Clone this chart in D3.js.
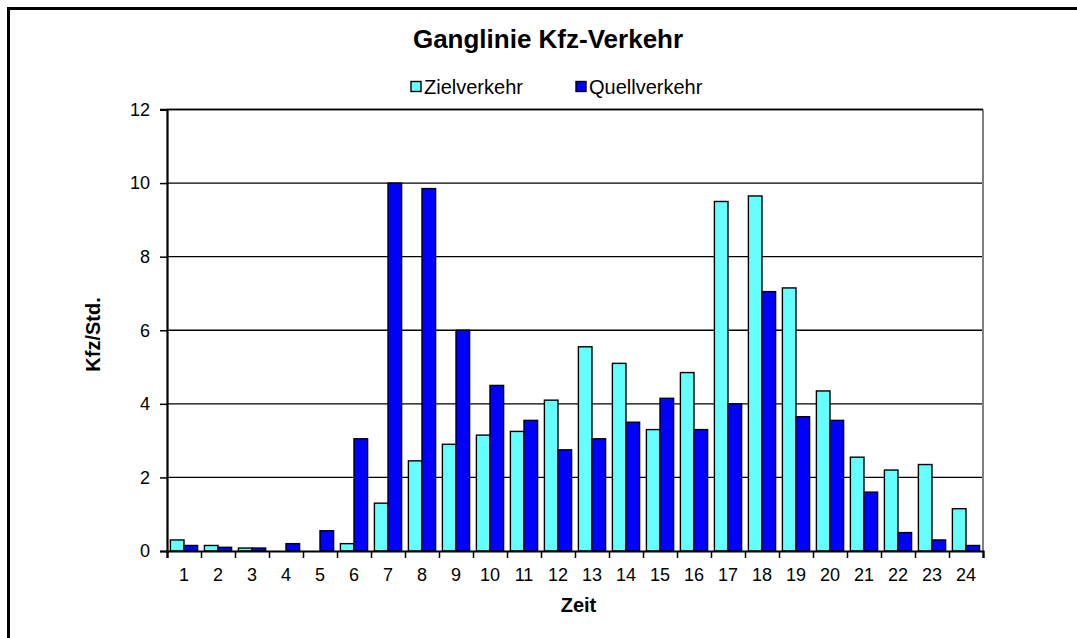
<!DOCTYPE html>
<html>
<head>
<meta charset="utf-8">
<script src="https://cdn.jsdelivr.net/npm/d3@7"></script>
<style>
    body { margin: 0; background: #fff; }
    svg { display: block; font-family: "Liberation Sans", Arial, sans-serif; }
</style>
</head>
<body>
<div id="chart"></div>
<script>
// hourly traffic
const hours = d3.range(1, 25).map(String);
const zielverkehr = [0.3, 0.15, 0.08, 0, 0, 0.2, 1.3, 2.45, 2.9, 3.15, 3.25, 4.1, 5.55, 5.1, 3.3, 4.85, 9.5, 9.65, 7.15, 4.35, 2.55, 2.2, 2.35, 1.15];
const quellverkehr = [0.15, 0.1, 0.08, 0.2, 0.55, 3.05, 10.0, 9.85, 6.0, 4.5, 3.55, 2.75, 3.05, 3.5, 4.15, 3.3, 4.0, 7.05, 3.65, 3.55, 1.6, 0.5, 0.3, 0.15];
const seriesNames = ["Zielverkehr", "Quellverkehr"];
const seriesColors = ["#66ffff", "#0000ff"];
const yTicks = [0, 2, 4, 6, 8, 10, 12];

const width = 1077;
const height = 638;
const plot = {left: 167, right: 983, top: 109.5, bottom: 551};

const svg = d3.select("#chart").append("svg")
    .attr("width", width)
    .attr("height", height);

//outer frame, only left and top edges are visible
svg.append("path")
    .attr("d", `M8.5,${height} V8.5 H${width}`)
    .attr("fill", "none")
    .attr("stroke", "#000")
    .attr("stroke-width", 3);

const x = d3.scaleBand().domain(hours).range([plot.left, plot.right]).padding(0);
const xSeries = d3.scaleBand().domain(seriesNames).range([0, x.bandwidth()]).paddingInner(0).paddingOuter(0.25);
const xEdges = d3.scaleLinear().domain([0, 24]).range([plot.left, plot.right]);
const y = d3.scaleLinear().domain([0, 12]).range([plot.bottom, plot.top]);

//gridlines
svg.append("g")
    .selectAll("line")
    .data(yTicks.filter(t => t > 0))
    .join("line")
    .attr("x1", plot.left)
    .attr("x2", plot.right)
    .attr("y1", d => y(d))
    .attr("y2", d => y(d))
    .attr("stroke", "#000")
    .attr("stroke-width", 1.3);

//right border of plot area
svg.append("line")
    .attr("x1", plot.right).attr("x2", plot.right)
    .attr("y1", plot.top).attr("y2", plot.bottom)
    .attr("stroke", "#808080")
    .attr("stroke-width", 2);

//bars
const rows = hours.map((h, i) => ({hour: h, values: [zielverkehr[i], quellverkehr[i]]}));

svg.append("g")
    .selectAll("g")
    .data(rows)
    .join("g")
    .attr("transform", d => `translate(${x(d.hour)},0)`)
    .selectAll("rect")
    .data(d => d.values.map((v, k) => ({name: seriesNames[k], value: v, color: seriesColors[k]})).filter(b => b.value > 0))
    .join("rect")
    .attr("x", d => xSeries(d.name))
    .attr("width", xSeries.bandwidth())
    .attr("y", d => y(d.value))
    .attr("height", d => y(0) - y(d.value))
    .attr("fill", d => d.color)
    .attr("stroke", "#000")
    .attr("stroke-width", 1.4);

//y axis
const yAxis = svg.append("g")
    .attr("transform", `translate(${plot.left},0)`)
    .call(d3.axisLeft(y).tickValues(yTicks).tickSize(7).tickPadding(10));
yAxis.select(".domain").attr("stroke-width", 2.2);
yAxis.selectAll(".tick line").attr("stroke-width", 1.5);
yAxis.selectAll("text").attr("font-size", 18).attr("fill", "#000").attr("font-family", "Liberation Sans, Arial, sans-serif");

//x axis ticks sit between the hours
const xTickAxis = svg.append("g")
    .attr("transform", `translate(0,${plot.bottom})`)
    .call(d3.axisBottom(xEdges).tickValues(d3.range(25)).tickSize(7).tickFormat(""));
xTickAxis.select(".domain").attr("stroke-width", 2.2);
xTickAxis.selectAll(".tick line").attr("stroke-width", 1.5);

const xLabelAxis = svg.append("g")
    .attr("transform", `translate(0,${plot.bottom})`)
    .call(d3.axisBottom(x).tickSize(0).tickPadding(17));
xLabelAxis.select(".domain").remove();
xLabelAxis.selectAll("text").attr("font-size", 18).attr("fill", "#000").attr("font-family", "Liberation Sans, Arial, sans-serif");

//top border of plot area
svg.append("line")
    .attr("x1", plot.left - 7).attr("x2", plot.right)
    .attr("y1", plot.top).attr("y2", plot.top)
    .attr("stroke", "#000")
    .attr("stroke-width", 1.6);

//title
svg.append("text")
    .attr("x", 548)
    .attr("y", 47.5)
    .attr("text-anchor", "middle")
    .attr("font-size", 26)
    .attr("font-weight", "bold")
    .text("Ganglinie Kfz-Verkehr");

//legend
const legendX = [411, 576];
const legend = svg.append("g")
    .selectAll("g")
    .data(seriesNames)
    .join("g")
    .attr("transform", (d, i) => `translate(${legendX[i]},86.5)`);

legend.append("rect")
    .attr("x", 0)
    .attr("y", -5)
    .attr("width", 10)
    .attr("height", 10)
    .attr("fill", (d, i) => seriesColors[i])
    .attr("stroke", "#000")
    .attr("stroke-width", 1.4);

legend.append("text")
    .attr("x", 13)
    .attr("y", 7.5)
    .attr("font-size", 20)
    .text(d => d);

//axis titles
svg.append("text")
    .attr("transform", "translate(100,334.5) rotate(-90)")
    .attr("text-anchor", "middle")
    .attr("font-size", 20)
    .attr("font-weight", "bold")
    .text("Kfz/Std.");

svg.append("text")
    .attr("x", 578.5)
    .attr("y", 611.5)
    .attr("text-anchor", "middle")
    .attr("font-size", 20)
    .attr("font-weight", "bold")
    .text("Zeit");
</script>
</body>
</html>
